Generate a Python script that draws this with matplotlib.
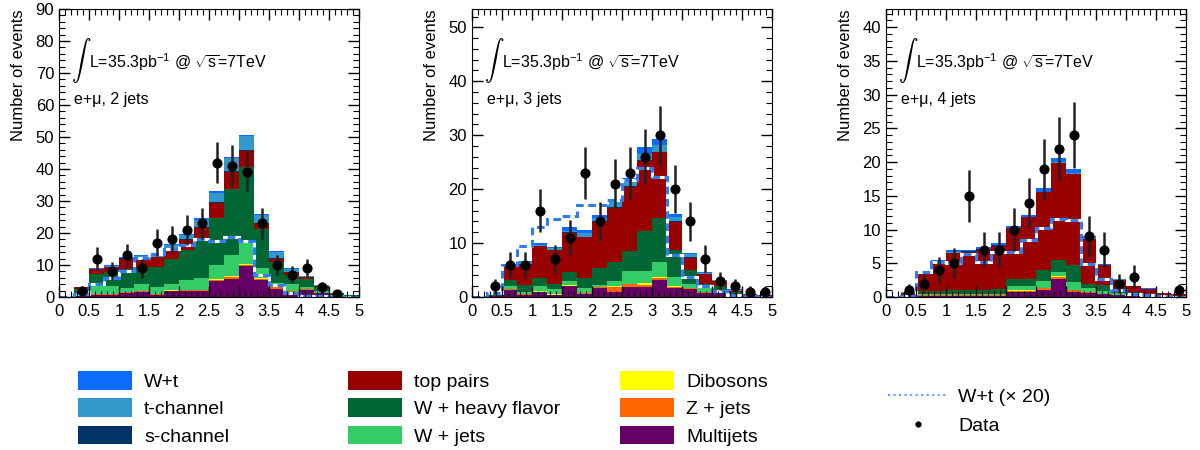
import numpy as np
import matplotlib
matplotlib.use("Agg")
import matplotlib.pyplot as plt
from matplotlib.patches import Patch
from matplotlib.lines import Line2D
from matplotlib.ticker import MultipleLocator

plt.rcParams['font.family'] = ['Liberation Sans', 'DejaVu Sans']
plt.rcParams['mathtext.fontset'] = 'custom'
plt.rcParams['mathtext.rm'] = 'Liberation Sans'
plt.rcParams['mathtext.it'] = 'Liberation Sans:italic'

# binning: 20 bins of width 0.25 between 0 and 5
edges = np.linspace(0, 5, 21)
centers = edges[:-1] + 0.125

# ---- e+mu, 2 jets ----
multijets_2j = [0, 0.2, 0.5, 0.6, 1.2, 1.6, 0.5, 1.8, 1.9, 1.8, 4.9, 5.6, 9.6, 5.2, 2.6, 1.5, 2.3, 1.1, 0.4, 0.1]
zjets_2j = [0, 0.05, 0.3, 0.2, 0.3, 0.2, 0.3, 0.2, 0.2, 0.3, 0.4, 0.5, 0.4, 0.5, 0.4, 0.3, 0.1, 0.1, 0.05, 0]
dibosons_2j = [0, 0.05, 0.2, 0.1, 0.2, 0.2, 0.1, 0.2, 0.2, 0.2, 0.4, 0.4, 0.4, 0.2, 0.2, 0.1, 0.1, 0.05, 0, 0]
wjets_2j = [0, 1.0, 3.0, 2.4, 1.2, 2.0, 2.2, 2.0, 2.9, 3.5, 4.2, 6.5, 6.8, 3.2, 1.2, 2.1, 0.5, 0.5, 0.2, 0.1]
whf_2j = [0, 1.3, 3.1, 4.5, 6.0, 5.2, 6.3, 7.7, 9.4, 12.2, 14.7, 20.8, 23.4, 12.0, 6.4, 2.9, 2.6, 1.4, 0.5, 0.3]
ttbar_2j = [0, 0.4, 1.5, 1.6, 3.1, 3.1, 3.1, 3.4, 3.3, 3.6, 4.9, 5.4, 5.1, 2.0, 1.2, 0.8, 0.5, 0.3, 0.1, 0.05]
schan_2j = [0, 0, 0.1, 0.1, 0.1, 0.1, 0.1, 0.1, 0.1, 0.2, 0.1, 0.1, 0.1, 0.1, 0.1, 0.1, 0.05, 0.05, 0, 0]
tchan_2j = [0, 0.05, 0.2, 0.2, 0.2, 0.4, 0.7, 0.8, 1.3, 2.2, 3.0, 4.0, 4.4, 2.5, 2.1, 1.1, 0.3, 0.2, 0.15, 0.1]
wt_2j = [0, 0.05, 0.2, 0.2, 0.2, 0.4, 0.6, 0.3, 0.5, 0.6, 0.5, 0.4, 0.5, 0.3, 0.3, 0.2, 0.05, 0.05, 0, 0]
wt20_2j = [0, 1.0, 4.0, 6.0, 8.0, 12.3, 13.3, 15.0, 16.4, 18.0, 17.4, 18.8, 17.6, 6.8, 3.7, 1.3, 0.4, 0.3, 0.1, 0]
data_2j = [0, 2, 12, 8, 13, 9, 17, 18, 21, 23, 42, 41, 39, 23, 10, 7, 9, 3, 1, 0]
err_2j = [0, 1.4, 3.5, 2.8, 3.6, 3.0, 4.1, 4.2, 4.6, 4.8, 6.5, 6.4, 6.2, 4.8, 3.2, 2.6, 3.0, 1.7, 1.0, 0]

# ---- e+mu, 3 jets ----
multijets_3j = [0, 0.1, 1.3, 0.4, 0.9, 0.3, 2.0, 0.5, 1.7, 1.0, 1.8, 1.8, 3.2, 1.7, 1.5, 0.8, 0.9, 0.4, 0.15, 0.1]
zjets_3j = [0, 0, 0.1, 0.1, 0.1, 0.1, 0.1, 0.2, 0.1, 0.8, 0.6, 0.5, 0.4, 0.1, 0.1, 0.05, 0.05, 0, 0, 0]
dibosons_3j = [0, 0, 0.1, 0.1, 0.1, 0.1, 0.1, 0.1, 0.1, 0.2, 0.1, 0.3, 0.2, 0.2, 0.1, 0.05, 0.05, 0, 0, 0]
wjets_3j = [0, 0.1, 0.6, 0.3, 0.9, 1.0, 0.7, 0.8, 0.3, 1.0, 2.3, 2.2, 2.7, 1.7, 0.8, 0.8, 0.3, 0.2, 0.1, 0.05]
whf_3j = [0, 0.3, 1.1, 1.3, 1.5, 1.0, 1.7, 1.9, 3.1, 3.5, 3.7, 7.4, 8.1, 5.1, 2.5, 0.8, 0.8, 0.3, 0.15, 0.1]
ttbar_3j = [0, 0.3, 2.4, 3.9, 5.9, 6.2, 7.3, 7.6, 8.6, 10.0, 11.9, 13.1, 12.2, 5.1, 2.3, 1.7, 0.8, 0.3, 0.1, 0.1]
schan_3j = [0, 0, 0.1, 0.1, 0.1, 0.1, 0.1, 0.1, 0.1, 0.1, 0.1, 0.1, 0.1, 0.1, 0.1, 0.05, 0, 0, 0, 0]
tchan_3j = [0, 0.05, 0.1, 0.2, 0.2, 0.2, 0.2, 0.6, 0.6, 1.0, 0.9, 1.2, 1.3, 0.9, 0.6, 0.2, 0.2, 0.1, 0.05, 0.05]
wt_3j = [0, 0.05, 0.4, 0.2, 0.4, 0.2, 0.7, 0.6, 0.6, 0.6, 0.7, 1.2, 1.1, 0.4, 0.2, 0.15, 0.1, 0.1, 0.05, 0]
wt20_3j = [0, 0.8, 5.9, 9.5, 13.0, 14.4, 15.0, 17.0, 17.0, 18.0, 21.7, 23.9, 22.2, 7.7, 3.8, 2.0, 1.2, 0.3, 0.1, 0]
data_3j = [0, 2, 6, 6, 16, 7, 11, 23, 14, 21, 23, 26, 30, 20, 14, 7, 3, 2, 1, 1]
err_3j = [0, 1.4, 2.4, 2.4, 4.0, 2.6, 3.3, 4.8, 3.7, 4.6, 4.8, 5.1, 5.5, 4.5, 3.7, 2.6, 1.7, 1.4, 1.0, 1.0]

# ---- e+mu, 4 jets ----
multijets_4j = [0, 0.1, 0.2, 0.2, 0.2, 0.2, 0.2, 0.2, 0.7, 0.7, 1.1, 2.7, 0.7, 0.6, 0.4, 0.3, 0.3, 0.2, 0.1, 0.1]
zjets_4j = [0, 0, 0.05, 0.05, 0.05, 0.05, 0.05, 0.05, 0.2, 0.2, 0.2, 0.2, 0.3, 0.1, 0.05, 0.05, 0, 0, 0, 0]
dibosons_4j = [0, 0, 0.05, 0.05, 0.05, 0.05, 0.05, 0.05, 0.1, 0.1, 0.1, 0.2, 0.1, 0.1, 0.05, 0, 0, 0, 0, 0]
wjets_4j = [0, 0.05, 0.1, 0.1, 0.1, 0.1, 0.1, 0.1, 0.6, 0.6, 1.0, 0.6, 1.1, 0.5, 0.4, 0.2, 0.1, 0, 0, 0]
whf_4j = [0, 0.2, 0.5, 0.5, 0.6, 0.6, 0.6, 0.8, 1.1, 1.1, 1.6, 1.8, 2.5, 0.7, 0.9, 0.5, 0.3, 0.1, 0.05, 0.1]
ttbar_4j = [0, 0.3, 2.6, 4.2, 5.5, 5.7, 6.0, 6.4, 7.5, 9.1, 11.5, 14.3, 13.5, 6.6, 2.9, 1.5, 0.9, 0.9, 0.4, 0.3]
schan_4j = [0, 0, 0.05, 0.05, 0.05, 0.05, 0.05, 0.05, 0.05, 0.05, 0.05, 0.05, 0.05, 0.05, 0, 0, 0, 0, 0, 0]
tchan_4j = [0, 0.05, 0.05, 0.1, 0.1, 0.1, 0.1, 0.1, 0.05, 0.05, 0.05, 0.15, 0.15, 0.05, 0.05, 0.05, 0.05, 0, 0, 0]
wt_4j = [0, 0, 0.1, 0.25, 0.25, 0.15, 0.25, 0.25, 0.2, 0.3, 0.6, 0.6, 0.6, 0.3, 0.15, 0.1, 0.05, 0.1, 0.05, 0]
wt20_4j = [0, 0.15, 3.7, 5.2, 5.0, 6.4, 5.2, 6.7, 6.7, 8.5, 10.3, 11.5, 11.4, 4.9, 2.7, 1.0, 0.5, 0.3, 0.1, 0]
data_4j = [0, 1, 2, 4, 5, 15, 7, 7, 10, 14, 19, 22, 24, 9, 7, 2, 3, 0, 0, 1]
err_4j = [0, 1.0, 1.4, 2.0, 2.2, 3.9, 2.6, 2.6, 3.2, 3.7, 4.4, 4.7, 4.9, 3.0, 2.6, 1.4, 1.7, 0, 0, 1.0]

# stack order: bottom -> top
names = ['Multijets', 'Z + jets', 'Dibosons', 'W + jets', 'W + heavy flavor',
         'top pairs', 's-channel', 't-channel', 'W+t']
colors = ['#660066', '#ff6600', '#ffff00', '#33cc66', '#006633',
          '#990000', '#003366', '#3399cc', '#0a6cff']

panels = [
    ([multijets_2j, zjets_2j, dibosons_2j, wjets_2j, whf_2j, ttbar_2j, schan_2j, tchan_2j, wt_2j],
     wt20_2j, data_2j, err_2j, 'e+\u03bc, 2 jets', 90, 10, 2),
    ([multijets_3j, zjets_3j, dibosons_3j, wjets_3j, whf_3j, ttbar_3j, schan_3j, tchan_3j, wt_3j],
     wt20_3j, data_3j, err_3j, 'e+\u03bc, 3 jets', 53.4, 10, 2),
    ([multijets_4j, zjets_4j, dibosons_4j, wjets_4j, whf_4j, ttbar_4j, schan_4j, tchan_4j, wt_4j],
     wt20_4j, data_4j, err_4j, 'e+\u03bc, 4 jets', 42.7, 5, 1),
]

fig = plt.figure(figsize=(12, 4.5), dpi=100)
lefts = [59 / 1200, 472 / 1200, 886 / 1200]

for left, (stack, wt20, data, err, tag, ymax, major, minor) in zip(lefts, panels):
    ax = fig.add_axes([left, 0.34, 0.25, 0.64])
    bottom = np.zeros(len(centers))
    for vals, c in zip(stack, colors):
        top = bottom + np.array(vals)
        ax.stairs(top, edges, baseline=bottom, fill=True, color=c, lw=0)
        bottom = top

    # W+t scaled by 20
    ax.stairs(wt20, edges, baseline=None, color='white', lw=2.2)
    ax.stairs(wt20, edges, baseline=None, color='#2f7df0', lw=2.2, ls=(0, (2.5, 1.5)))

    d = np.array(data, dtype=float)
    e = np.array(err)
    m = d > 0
    ax.errorbar(centers[m], d[m], yerr=e[m], fmt='o', color='black', ms=6.3,
                ecolor='#222222', elinewidth=1.8, capsize=0)

    ax.set_xlim(0, 5)
    ax.set_ylim(0, ymax)
    ax.xaxis.set_major_locator(MultipleLocator(0.5))
    ax.xaxis.set_minor_locator(MultipleLocator(0.1))
    ax.yaxis.set_major_locator(MultipleLocator(major))
    ax.yaxis.set_minor_locator(MultipleLocator(minor))
    ax.xaxis.set_major_formatter(plt.FuncFormatter(lambda v, p: ('%g' % v)))
    ax.tick_params(which='both', direction='in', top=True, right=True, labelsize=12)
    ax.tick_params(which='major', length=8, width=1)
    ax.tick_params(which='minor', length=4, width=0.8)
    ax.tick_params(axis='x', pad=5)
    ax.set_ylabel('Number of events', fontsize=12, loc='top')
    ax.yaxis.set_label_coords(-0.11, 1.0)

    ax.text(0.04, 0.82, r'$\int$', transform=ax.transAxes, fontsize=14,
            va='center', ha='left', math_fontfamily='cm')
    ax.text(0.1, 0.815, r'L=35.3pb$^{-1}$ @ $\sqrt{\rm s}$=7TeV', transform=ax.transAxes,
            fontsize=11.5, va='center', ha='left')
    ax.text(0.05, 0.685, tag, transform=ax.transAxes, fontsize=11.5, va='center', ha='left')

# legend below the panels
handles = [Patch(facecolor=c, edgecolor='none') for c in colors]
by_name = dict(zip(names, handles))
cols = [['W+t', 't-channel', 's-channel'],
        ['top pairs', 'W + heavy flavor', 'W + jets'],
        ['Dibosons', 'Z + jets', 'Multijets']]
col_x = [78 / 1200, 348 / 1200, 620 / 1200]
for x, col in zip(col_x, cols):
    fig.legend([by_name[n] for n in col], col, loc='upper left',
               bbox_to_anchor=(x, 1 - 371 / 450), frameon=False, fontsize=14,
               handlelength=2.8, handleheight=1.1, handletextpad=0.6,
               labelspacing=0.38, borderpad=0, borderaxespad=0)

extra = [Line2D([], [], color='#5a9cff', lw=1.5, ls=':'),
         Line2D([], [], color='black', marker='o', ms=3.5, ls='none')]
fig.legend(extra, ['W+t (\u00d7 20)', 'Data'], loc='upper left',
           bbox_to_anchor=(888 / 1200, 1 - 388 / 450), frameon=False, fontsize=14,
           handlelength=3.1, handletextpad=0.5, labelspacing=0.6,
           borderpad=0, borderaxespad=0)

fig.savefig('out.png', dpi=100)
